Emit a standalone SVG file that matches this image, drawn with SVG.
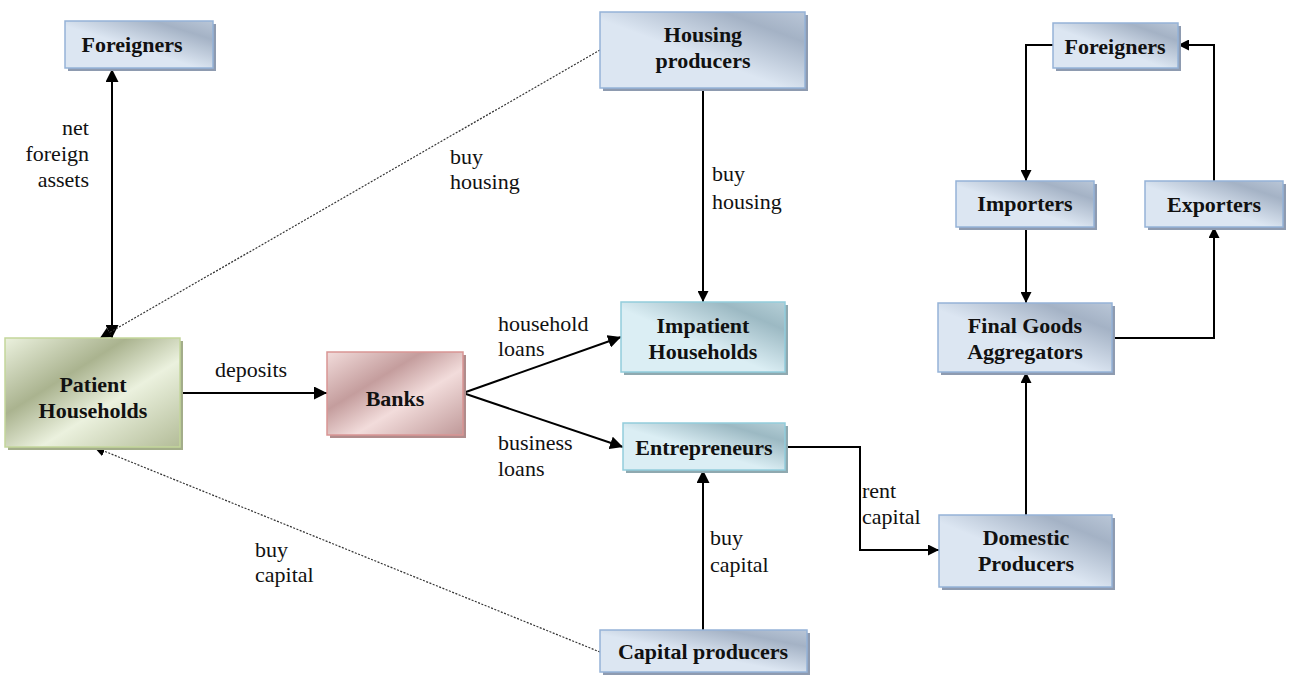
<svg xmlns="http://www.w3.org/2000/svg" width="1289" height="677" viewBox="0 0 1289 677">
<defs>
<linearGradient id="gBlue2" x1="0" y1="1" x2="1" y2="0">
<stop offset="0" stop-color="#dce6f2"/><stop offset="0.45" stop-color="#dce6f2"/><stop offset="0.8" stop-color="#a4b2c5"/><stop offset="1" stop-color="#b9c6d7"/>
</linearGradient>
<linearGradient id="gGreen" x1="0" y1="0" x2="1" y2="1">
<stop offset="0" stop-color="#ebf1de"/><stop offset="0.35" stop-color="#aab38f"/><stop offset="0.6" stop-color="#ebf1de"/><stop offset="1" stop-color="#b3bc98"/>
</linearGradient>
<linearGradient id="gRed" x1="0" y1="0" x2="1" y2="1">
<stop offset="0" stop-color="#f2dcdb"/><stop offset="0.35" stop-color="#c49d9d"/><stop offset="0.6" stop-color="#f2dcdb"/><stop offset="1" stop-color="#bf9999"/>
</linearGradient>
<linearGradient id="gTeal" x1="0" y1="1" x2="1" y2="0">
<stop offset="0" stop-color="#dbeef4"/><stop offset="0.45" stop-color="#dbeef4"/><stop offset="0.8" stop-color="#9cb9c3"/><stop offset="1" stop-color="#b5cfd7"/>
</linearGradient>
<marker id="ah" viewBox="0 0 10 10" refX="10" refY="5" markerWidth="11" markerHeight="11" markerUnits="userSpaceOnUse" orient="auto-start-reverse">
<path d="M0,0 L10,5 L0,10 z" fill="#000"/>
</marker>
<marker id="ahs" viewBox="0 0 10 10" refX="10" refY="5" markerWidth="13" markerHeight="13" markerUnits="userSpaceOnUse" orient="auto-start-reverse">
<path d="M0,0 L10,5 L0,10 z" fill="#000"/>
</marker>
</defs>
<style>
.nt{font-family:"Liberation Serif","Times New Roman",serif;font-weight:bold;font-size:22px;fill:#111;text-anchor:middle}
.el{font-family:"Liberation Serif","Times New Roman",serif;font-size:22px;fill:#111}
.sb{fill:#8e9bb0}
.bx{fill:url(#gBlue2);stroke:#95b3d7;stroke-width:1.5}
.ln{fill:none;stroke:#000;stroke-width:2}
.dl{fill:none;stroke:#333;stroke-width:1.2;stroke-dasharray:2,1.5}
</style>
<rect width="1289" height="677" fill="#fff"/>

<g id="connectors">
<line class="ln" x1="112" y1="338" x2="112" y2="69" marker-start="url(#ahs)" marker-end="url(#ahs)"/>
<line class="dl" x1="600" y1="50" x2="100" y2="338" marker-end="url(#ah)"/>
<line class="dl" x1="600" y1="652" x2="94" y2="447" marker-end="url(#ah)"/>
<line class="ln" x1="180" y1="393" x2="327" y2="393" marker-end="url(#ahs)"/>
<line class="ln" x1="463" y1="393" x2="621" y2="337" marker-end="url(#ahs)"/>
<line class="ln" x1="463" y1="393" x2="623" y2="447" marker-end="url(#ahs)"/>
<line class="ln" x1="703" y1="88" x2="703" y2="302" marker-end="url(#ah)"/>
<line class="ln" x1="703" y1="630" x2="703" y2="470" marker-end="url(#ahs)"/>
<polyline class="ln" points="785,447 860,447 860,550 939,550" marker-end="url(#ah)"/>
<line class="ln" x1="1026" y1="515" x2="1026" y2="372" marker-end="url(#ah)"/>
<polyline class="ln" points="1053,45 1026,45 1026,181" marker-end="url(#ah)"/>
<line class="ln" x1="1026" y1="227" x2="1026" y2="303" marker-end="url(#ah)"/>
<polyline class="ln" points="1112,338 1214,338 1214,227" marker-end="url(#ah)"/>
<polyline class="ln" points="1214,181 1214,45 1178,45" marker-end="url(#ah)"/>
</g>

<g id="edge-labels">
<text class="el" text-anchor="end" x="89" y="135">net</text>
<text class="el" text-anchor="end" x="89" y="161">foreign</text>
<text class="el" text-anchor="end" x="89" y="187">assets</text>
<text class="el" x="450" y="164">buy</text>
<text class="el" x="450" y="189">housing</text>
<text class="el" x="712" y="181">buy</text>
<text class="el" x="712" y="209">housing</text>
<text class="el" x="215" y="377">deposits</text>
<text class="el" x="498" y="331">household</text>
<text class="el" x="498" y="356">loans</text>
<text class="el" x="498" y="450">business</text>
<text class="el" x="498" y="476">loans</text>
<text class="el" x="862" y="498">rent</text>
<text class="el" x="862" y="524">capital</text>
<text class="el" x="710" y="545">buy</text>
<text class="el" x="710" y="572">capital</text>
<text class="el" x="255" y="557">buy</text>
<text class="el" x="255" y="582">capital</text>
</g>

<g id="foreigners-left">
<rect class="sb" x="68" y="24" width="148" height="47"/>
<rect class="bx" x="65" y="21" width="148" height="47"/>
<text class="nt" x="132" y="52">Foreigners</text>
</g>

<g id="housing-producers">
<rect class="sb" x="603" y="15" width="205" height="76"/>
<rect class="bx" x="600" y="12" width="205" height="76"/>
<text class="nt" x="703" y="42">Housing</text>
<text class="nt" x="703" y="68">producers</text>
</g>

<g id="patient-households">
<rect x="8" y="341" width="175" height="109" fill="#a3ad8a"/>
<rect x="5" y="338" width="175" height="109" fill="url(#gGreen)" stroke="#c3d69b" stroke-width="1.5"/>
<text class="nt" x="93" y="392">Patient</text>
<text class="nt" x="93" y="418">Households</text>
</g>

<g id="banks">
<rect x="330" y="355" width="136" height="83" fill="#b08c8c"/>
<rect x="327" y="352" width="136" height="83" fill="url(#gRed)" stroke="#d99594" stroke-width="1.5"/>
<text class="nt" x="395" y="406">Banks</text>
</g>

<g id="impatient-households">
<rect x="624" y="305" width="164" height="70" fill="#8fa9b0"/>
<rect x="621" y="302" width="164" height="70" fill="url(#gTeal)" stroke="#92cddc" stroke-width="1.5"/>
<text class="nt" x="703" y="333">Impatient</text>
<text class="nt" x="703" y="359">Households</text>
</g>

<g id="entrepreneurs">
<rect x="626" y="426" width="162" height="47" fill="#8fa9b0"/>
<rect x="623" y="423" width="162" height="47" fill="url(#gTeal)" stroke="#92cddc" stroke-width="1.5"/>
<text class="nt" x="704" y="455">Entrepreneurs</text>
</g>

<g id="capital-producers">
<rect class="sb" x="603" y="633" width="207" height="42"/>
<rect class="bx" x="600" y="630" width="207" height="42"/>
<text class="nt" x="703" y="659">Capital producers</text>
</g>

<g id="domestic-producers">
<rect class="sb" x="942" y="518" width="173" height="72"/>
<rect class="bx" x="939" y="515" width="173" height="72"/>
<text class="nt" x="1026" y="545">Domestic</text>
<text class="nt" x="1026" y="571">Producers</text>
</g>

<g id="final-goods-aggregators">
<rect class="sb" x="941" y="306" width="174" height="69"/>
<rect class="bx" x="938" y="303" width="174" height="69"/>
<text class="nt" x="1025" y="333">Final Goods</text>
<text class="nt" x="1025" y="359">Aggregators</text>
</g>

<g id="importers">
<rect class="sb" x="959" y="184" width="138" height="46"/>
<rect class="bx" x="956" y="181" width="138" height="46"/>
<text class="nt" x="1025" y="211">Importers</text>
</g>

<g id="exporters">
<rect class="sb" x="1148" y="184" width="138" height="46"/>
<rect class="bx" x="1145" y="181" width="138" height="46"/>
<text class="nt" x="1214" y="212">Exporters</text>
</g>

<g id="foreigners-right">
<rect class="sb" x="1056" y="26" width="125" height="45"/>
<rect class="bx" x="1053" y="23" width="125" height="45"/>
<text class="nt" x="1115" y="54">Foreigners</text>
</g>
</svg>
